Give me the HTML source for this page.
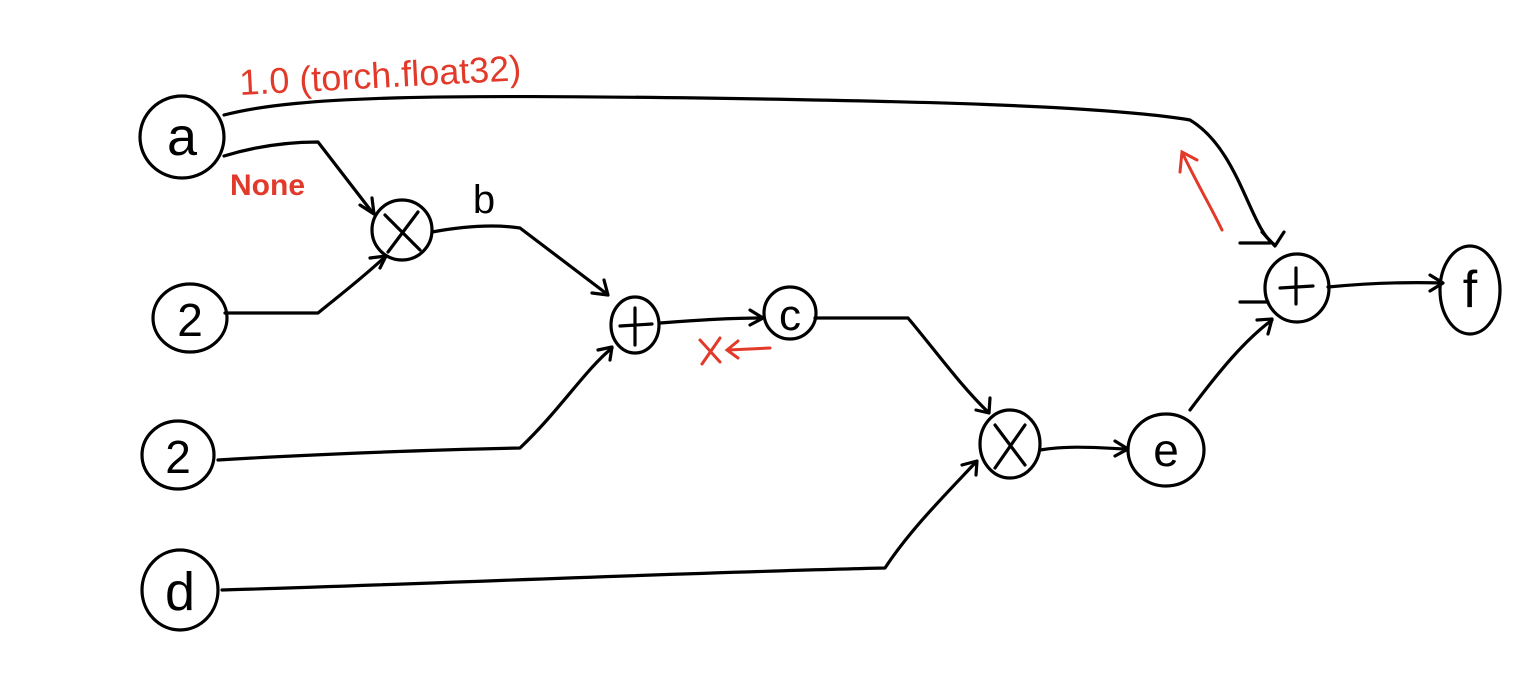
<!DOCTYPE html>
<html><head><meta charset="utf-8"><style>
html,body{margin:0;padding:0;background:#fff;}
svg{display:block}
text{font-family:"Liberation Sans",sans-serif}
</style></head><body>
<svg width="1538" height="698" viewBox="0 0 1538 698" xmlns="http://www.w3.org/2000/svg">
<g fill="none" stroke="#000" stroke-width="3.2" stroke-linecap="round" stroke-linejoin="round">
<ellipse cx="182" cy="137" rx="42" ry="41"/>
<ellipse cx="190" cy="318" rx="37" ry="34"/>
<ellipse cx="178" cy="455" rx="36" ry="34"/>
<ellipse cx="180" cy="590" rx="38" ry="40"/>
<ellipse cx="402" cy="230" rx="30" ry="30"/>
<ellipse cx="635" cy="325" rx="24" ry="28"/>
<ellipse cx="790" cy="313" rx="26" ry="26"/>
<ellipse cx="1010" cy="444" rx="30" ry="34"/>
<ellipse cx="1166" cy="450" rx="38" ry="36"/>
<ellipse cx="1297" cy="288" rx="32" ry="34"/>
<ellipse cx="1470" cy="290" rx="30" ry="44"/>
<path d="M224 115 C300 95 450 95 700 98 C900 101 1100 105 1190 120 C1240 150 1250 230 1275 245"/>
<path d="M1262 232 L1275 246 L1284 232"/>
<path d="M224 156 C260 145 290 142 318 142 L372 212"/>
<path d="M360 205 L374 214 L372 198"/>
<path d="M225 313 L318 313 C340 295 360 280 386 256"/>
<path d="M370 258 L386 256 L380 268"/>
<path d="M432 232 C470 225 500 225 520 228 L607 294"/>
<path d="M592 293 L608 295 L604 280"/>
<path d="M218 460 C300 455 420 450 520 448 C560 410 585 370 612 348"/>
<path d="M598 350 L612 347 L610 360"/>
<path d="M660 323 C700 320 730 318 762 318"/>
<path d="M750 310 L763 318 L750 325"/>
<path d="M815 318 L908 318 C935 350 960 385 988 412"/>
<path d="M976 410 L989 413 L990 398"/>
<path d="M222 590 C400 585 700 572 885 568 C910 530 945 495 976 462"/>
<path d="M962 465 L977 461 L976 475"/>
<path d="M1040 450 C1070 445 1100 448 1127 449"/>
<path d="M1115 441 L1128 449 L1115 456"/>
<path d="M1190 410 C1220 370 1245 340 1272 320"/>
<path d="M1257 320 L1272 319 L1268 334"/>
<path d="M1328 287 C1370 283 1410 282 1442 283"/>
<path d="M1430 275 L1443 283 L1430 291"/>
<path d="M1240 243 L1270 243"/>
<path d="M1240 302 L1268 302"/>
<path d="M385 215 L420 250 M418 212 L388 252"/>
<path d="M635 308 L635 345 M620 326 L652 324"/>
<path d="M1296 268 L1296 304 M1280 288 L1313 286"/>
<path d="M995 425 L1025 465 M1025 425 L995 468"/>
</g>
<g font-family="Liberation Sans,sans-serif" fill="#000">
<text x="182" y="155" font-size="54" text-anchor="middle">a</text>
<text x="190" y="336" font-size="46" text-anchor="middle">2</text>
<text x="178" y="473" font-size="46" text-anchor="middle">2</text>
<text x="180" y="610" font-size="54" text-anchor="middle">d</text>
<text x="790" y="330" font-size="44" text-anchor="middle">c</text>
<text x="1166" y="466" font-size="46" text-anchor="middle">e</text>
<text x="1470" y="307" font-size="52" text-anchor="middle">f</text>
<text x="484" y="213" font-size="40" text-anchor="middle">b</text>
</g>
<g fill="#e23a2a" font-family="Liberation Sans,sans-serif">
<text x="240" y="95" font-size="36" transform="rotate(-3 240 95)">1.0 (torch.float32)</text>
<text x="230" y="195" font-size="30" font-weight="bold">None</text>
</g>
<g fill="none" stroke="#e23a2a" stroke-width="3" stroke-linecap="round">
<path d="M700 340 L720 362 M720 338 L702 364"/>
<path d="M728 350 L770 348 M738 341 L727 350 L738 358"/>
<path d="M1222 230 C1210 205 1195 180 1182 152 M1180 172 L1182 152 L1197 160"/>
</g>
</svg>
</body></html>
